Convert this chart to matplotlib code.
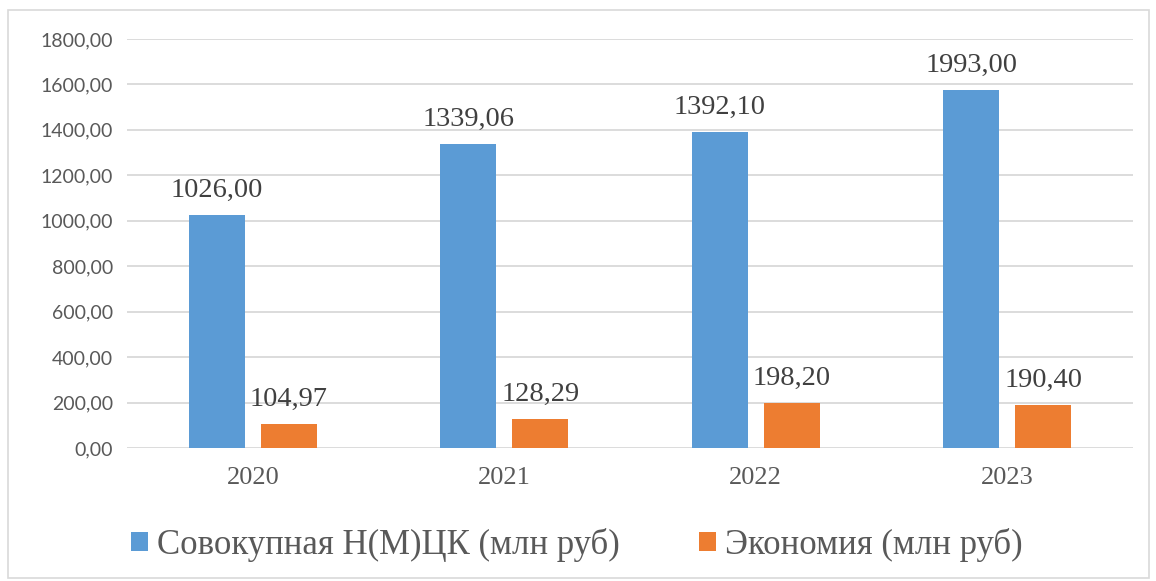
import matplotlib.pyplot as plt
import numpy as np
from matplotlib.patches import Rectangle

plt.rcParams['font.family'] = ['Liberation Serif', 'DejaVu Sans']

# data
years = ['2020', '2021', '2022', '2023']
total = [1026.00, 1339.06, 1392.10, 1575.00]      # bar heights as drawn
total_labels = ['1026,00', '1339,06', '1392,10', '1993,00']
savings = [104.97, 128.29, 198.20, 190.40]
savings_labels = ['104,97', '128,29', '198,20', '190,40']
yticks = [0, 200, 400, 600, 800, 1000, 1200, 1400, 1600, 1800]

blue = '#5b9bd5'
orange = '#ed7d31'
grey = '#595959'

fig = plt.figure(figsize=(11.56, 5.81), dpi=100)
# outer chart border
fig.patches.append(Rectangle((8 / 1156, 3 / 581), 1141 / 1156, 568 / 581,
                             transform=fig.transFigure, fill=False,
                             edgecolor='#d9d9d9', linewidth=1.2))

ax = fig.add_axes([0.110, 0.229, 0.870, 0.704])

x = np.arange(len(years))
w = 0.223
gap = 0.064
b1 = ax.bar(x - (w + gap) / 2, total, w, color=blue, label='Совокупная Н(М)ЦК (млн руб)', zorder=3)
b2 = ax.bar(x + (w + gap) / 2, savings, w, color=orange, label='Экономия (млн руб)', zorder=3)

for rect, txt in zip(list(b1) + list(b2), total_labels + savings_labels):
    ax.annotate(txt, (rect.get_x() + rect.get_width() / 2, rect.get_height()),
                xytext=(0, 8.5), textcoords='offset points', ha='center', va='bottom',
                fontsize=20.5, color='#404040')

ax.set_xlim(-0.5, 3.5)
ax.set_ylim(0, 1800)
ax.set_yticks(yticks)
ax.set_yticklabels([f'{v:.2f}'.replace('.', ',') for v in yticks],
                   fontsize=14, color=grey, family='Lato')
ax.set_xticks(x)
ax.set_xticklabels(years, fontsize=19, color=grey)
ax.tick_params(axis='both', length=0)
ax.tick_params(axis='x', pad=14)
ax.tick_params(axis='y', pad=10)
ax.grid(axis='y', color='#d9d9d9', linewidth=1.3, zorder=0)
for s in ax.spines.values():
    s.set_visible(False)

leg = fig.legend(loc='center', bbox_to_anchor=(0.499, 0.062), ncol=2, frameon=False,
                 handlelength=0.49, handleheight=0.49, handletextpad=0.25,
                 columnspacing=2.3, fontsize=25)
for t in leg.get_texts():
    t.set_color(grey)

fig.savefig('out.png', dpi=100)
